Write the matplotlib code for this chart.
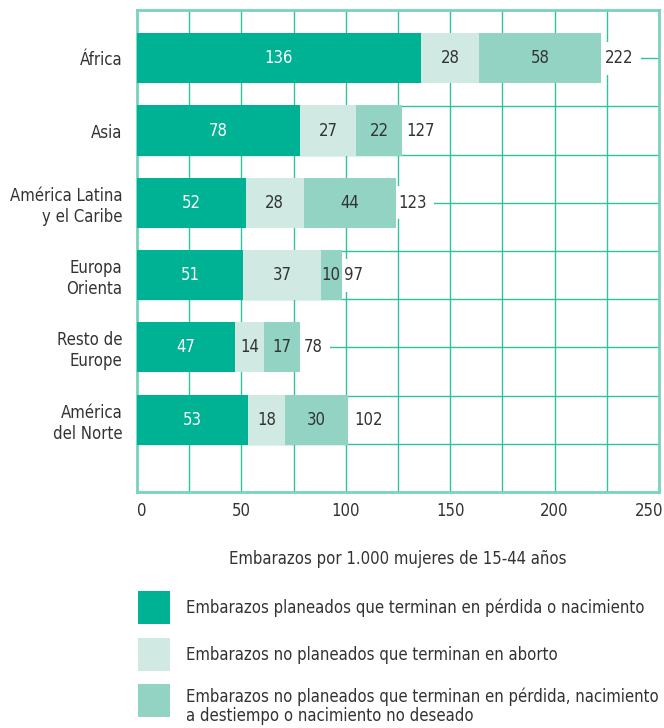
import matplotlib
matplotlib.use("Agg")
import matplotlib.pyplot as plt
from matplotlib.patches import Rectangle
from matplotlib.transforms import ScaledTranslation

plt.rcParams['font.family'] = ['DejaVu Sans']
plt.rcParams['font.stretch'] = 'condensed'

# Data
regions = ['África', 'Asia', 'América Latina\ny el Caribe', 'Europa\nOrienta',
           'Resto de\nEurope', 'América\ndel Norte']
planned = [136, 78, 52, 51, 47, 53]
abortion = [28, 27, 28, 37, 14, 18]
unwanted = [58, 22, 44, 10, 17, 30]
totals = [222, 127, 123, 97, 78, 102]
row_pos = [1, 2.5, 4, 5.5, 7, 8.5]

series_names = ['Embarazos planeados que terminan en pérdida o nacimiento',
                'Embarazos no planeados que terminan en aborto',
                'Embarazos no planeados que terminan en pérdida, nacimiento\na destiempo o nacimiento no deseado']
colors = ['#00b294', '#d0eae3', '#93d3c4']
label_colors = ['white', '#333333', '#333333']
grid_col = '#2fc2a0'
text_col = '#333333'
fs = 12

fig = plt.figure(figsize=(6.64, 7.28), dpi=100)
W, H = 664, 728
ax = fig.add_axes([137 / W, (H - 492) / H, (659 - 137) / W, (492 - 10) / H])

# stacked bars
left = [0] * len(regions)
for vals, col, lcol in zip([planned, abortion, unwanted], colors, label_colors):
    ax.barh(row_pos, vals, left=left, height=1.04, color=col, zorder=3)
    for y, l, v in zip(row_pos, left, vals):
        ax.text(l + v / 2, y, str(v), ha='center', va='center',
                color=lcol, fontsize=fs, zorder=4)
    left = [a + b for a, b in zip(left, vals)]

# totals, white box hides the grid
for y, t in zip(row_pos, totals):
    ax.text(t + 2, y, str(t), ha='left', va='center', color=text_col,
            fontsize=fs, zorder=2.5,
            bbox=dict(boxstyle='square,pad=0.45', fc='white', ec='none'))

ax.set_xlim(0, 250)
ax.set_ylim(10, 0)
ax.xaxis.remove_overlapping_locs = False
ax.yaxis.remove_overlapping_locs = False
ax.set_xticks(range(0, 251, 50))
ax.set_xticks(range(0, 251, 25), minor=True)
ax.set_yticks(row_pos)
ax.set_yticklabels(regions, fontsize=fs, color=text_col, ha='right', ma='right')
ax.set_yticks(range(0, 11), minor=True)
ax.tick_params(axis='both', which='both', length=0)
ax.tick_params(axis='x', labelsize=fs, labelcolor=text_col, pad=7)
ax.tick_params(axis='y', pad=10.5)
ax.xaxis.grid(which='minor', color=grid_col, lw=1)
ax.yaxis.grid(which='minor', color=grid_col, lw=1)
ax.set_axisbelow(True)
for s in ax.spines.values():
    s.set_color('#79d3bf')
    s.set_linewidth(2)

# first and last tick labels sit inside the frame like the original
xlabs = ax.get_xticklabels()
xlabs[0].set_ha('left')
xlabs[-1].set_ha('right')
xlabs[-1].set_transform(xlabs[-1].get_transform() +
                        ScaledTranslation(4 / 100, 0, fig.dpi_scale_trans))

ax.set_xlabel('Embarazos por 1.000 mujeres de 15-44 años', fontsize=fs,
              color=text_col, labelpad=22)

# legend drawn by hand
leg_y = [608, 655, 701]
for name, col, y in zip(series_names, colors, leg_y):
    fig.patches.append(Rectangle((138 / W, 1 - (y + 16) / H), 32 / W, 33 / H,
                                 transform=fig.transFigure, fc=col, ec='none'))
    ty = y + 5 if '\n' in name else y
    fig.text(186 / W, 1 - ty / H, name, ha='left', va='center', fontsize=fs,
             color=text_col, linespacing=1.1)

fig.savefig('out.png', dpi=100)
